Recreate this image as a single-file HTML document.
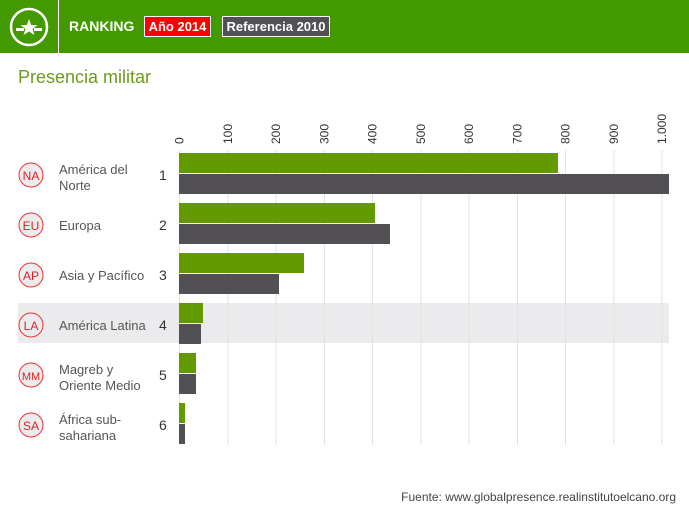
<!DOCTYPE html>
<html><head><meta charset="utf-8"><style>
body{margin:0;width:689px;height:517px;background:#fff;font-family:"Liberation Sans",sans-serif;position:relative;overflow:hidden}
.a{position:absolute}
</style></head><body>
<div class="a" style="left:0;top:0;width:689px;height:53px;background:#439a00"></div>
<div class="a" style="left:58px;top:0;width:1px;height:53px;background:#fff"></div>
<svg class="a" style="left:8px;top:7px" width="42" height="40" viewBox="0 0 42 40">
<circle cx="21" cy="20" r="18" fill="none" stroke="#fff" stroke-width="2.5"/>
<polygon points="21,12 23.2,18 29.5,18 24.5,22 26.5,28 21,24.5 15.5,28 17.5,22 12.5,18 18.8,18" fill="#fff"/>
<rect x="8" y="21" width="8" height="3" fill="#fff"/><rect x="26" y="21" width="8" height="3" fill="#fff"/>
</svg>
<div class="a" style="left:69px;top:18px;color:#fff;font-weight:bold;font-size:14px">RANKING</div>
<div class="a" style="left:144px;top:16px;width:67px;height:21px;background:#f00;border:1px solid #fff;box-sizing:border-box;color:#fff;font-weight:bold;font-size:13px;line-height:19px;text-align:center">Año 2014</div>
<div class="a" style="left:222px;top:16px;width:108px;height:21px;background:#525055;border:1px solid #fff;box-sizing:border-box;color:#fff;font-weight:bold;font-size:13px;line-height:19px;text-align:center">Referencia 2010</div>
<div class="a" style="left:18px;top:67px;color:#6a9a1f;font-size:18px">Presencia militar</div>
<div class="a" style="left:18px;top:303px;width:651px;height:40px;background:#ebebed"></div>
<svg class="a" style="left:0;top:0" width="689" height="517">
<g stroke="#e3e3e3" stroke-width="1">
<line x1="179.5" y1="150" x2="179.5" y2="445"/><line x1="228" y1="150" x2="228" y2="445"/><line x1="276" y1="150" x2="276" y2="445"/><line x1="324.5" y1="150" x2="324.5" y2="445"/><line x1="372.5" y1="150" x2="372.5" y2="445"/><line x1="421" y1="150" x2="421" y2="445"/><line x1="469" y1="150" x2="469" y2="445"/><line x1="517.5" y1="150" x2="517.5" y2="445"/><line x1="565.5" y1="150" x2="565.5" y2="445"/><line x1="614" y1="150" x2="614" y2="445"/><line x1="662" y1="150" x2="662" y2="445"/>
</g>
<g font-size="12" fill="#333">
<text transform="translate(183.5,144) rotate(-90)">0</text>
<text transform="translate(232,144) rotate(-90)">100</text>
<text transform="translate(280,144) rotate(-90)">200</text>
<text transform="translate(328.5,144) rotate(-90)">300</text>
<text transform="translate(376.5,144) rotate(-90)">400</text>
<text transform="translate(425,144) rotate(-90)">500</text>
<text transform="translate(473,144) rotate(-90)">600</text>
<text transform="translate(521.5,144) rotate(-90)">700</text>
<text transform="translate(569.5,144) rotate(-90)">800</text>
<text transform="translate(618,144) rotate(-90)">900</text>
<text transform="translate(666,144) rotate(-90)">1.000</text>
</g>
<g fill="#639a00">
<rect x="179" y="153" width="379" height="20"/><rect x="179" y="203" width="196" height="20"/><rect x="179" y="253" width="125" height="20"/><rect x="179" y="303" width="24" height="20"/><rect x="179" y="353" width="17" height="20"/><rect x="179" y="403" width="6" height="20"/>
</g>
<g fill="#525055">
<rect x="179" y="174" width="490" height="20"/><rect x="179" y="224" width="211" height="20"/><rect x="179" y="274" width="100" height="20"/><rect x="179" y="324" width="22" height="20"/><rect x="179" y="374" width="17" height="20"/><rect x="179" y="424" width="6" height="20"/>
</g>
<g font-size="12" fill="#d42" text-anchor="middle">
<g><circle cx="31" cy="175" r="12" fill="#ececee" stroke="#e33" stroke-width="1"/><text x="31" y="180" fill="#d22">NA</text></g>
<g><circle cx="31" cy="225" r="12" fill="#ececee" stroke="#e33"/><text x="31" y="230" fill="#d22">EU</text></g>
<g><circle cx="31" cy="275" r="12" fill="#ececee" stroke="#e33"/><text x="31" y="280" fill="#d22">AP</text></g>
<g><circle cx="31" cy="325" r="12" fill="#ececee" stroke="#e33"/><text x="31" y="330" fill="#d22">LA</text></g>
<g><circle cx="31" cy="375" r="12" fill="#ececee" stroke="#e33"/><text x="31" y="380" fill="#d22" font-size="11">MM</text></g>
<g><circle cx="31" cy="425" r="12" fill="#ececee" stroke="#e33"/><text x="31" y="430" fill="#d22">SA</text></g>
</g>
<g font-size="13" fill="#555">
<text x="59" y="174">América del</text><text x="59" y="190">Norte</text>
<text x="59" y="230">Europa</text>
<text x="59" y="280">Asia y Pacífico</text>
<text x="59" y="330">América Latina</text>
<text x="59" y="374">Magreb y</text><text x="59" y="390">Oriente Medio</text>
<text x="59" y="424">África sub-</text><text x="59" y="440">sahariana</text>
</g>
<g font-size="14" fill="#333">
<text x="159" y="180">1</text><text x="159" y="230">2</text><text x="159" y="280">3</text><text x="159" y="330">4</text><text x="159" y="380">5</text><text x="159" y="430">6</text>
</g>
<text x="676" y="501" font-size="12" fill="#444" text-anchor="end">Fuente: www.globalpresence.realinstitutoelcano.org</text>
</svg>
</body></html>
